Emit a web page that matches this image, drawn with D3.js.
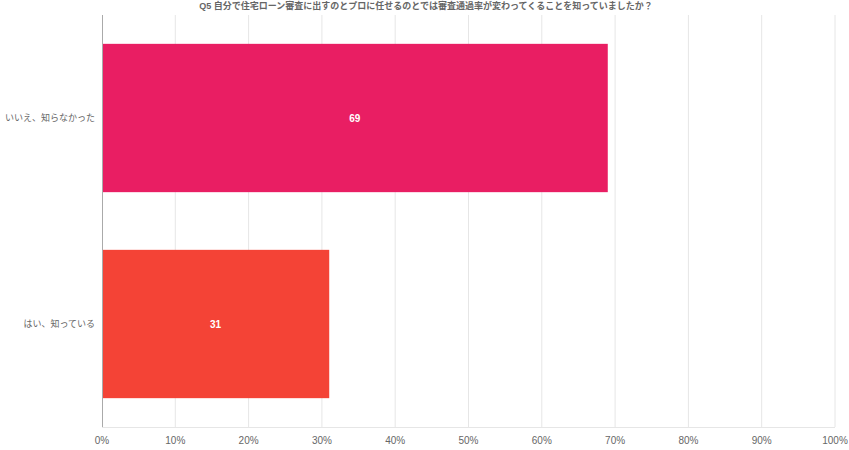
<!DOCTYPE html>
<html>
<head>
<meta charset="utf-8">
<script src="https://cdn.jsdelivr.net/npm/d3@7"></script>
<style>
  body { margin: 0; background: #fff; }
  text { font-family: "Liberation Sans", Arial, "Noto Sans CJK JP", sans-serif; }
</style>
</head>
<body>
<div id="chart"></div>
<script>
// dados - data
var categories = ['いいえ、知らなかった', 'はい、知っている'];
var values = [69, 31];
var barColors = ['#e91e63', '#f44336'];
var ticks = [0, 10, 20, 30, 40, 50, 60, 70, 80, 90, 100];
var title = 'Q5 自分で住宅ローン審査に出すのとプロに任せるのとでは審査通過率が変わってくることを知っていましたか？';

var width = 849, height = 450;
var margin = {top: 15, right: 14, bottom: 23, left: 102};

var svg = d3.select('#chart')
  .append('svg')
  .attr('width', width)
  .attr('height', height);

var x = d3.scaleLinear()
  .domain([0, 100])
  .range([margin.left, width - margin.right]);

var y = d3.scaleBand()
  .domain(categories)
  .range([margin.top, height - margin.bottom])
  .paddingInner(0.28)
  .paddingOuter(0.14);

// grid
svg.append('g')
  .selectAll('line')
  .data(ticks.slice(1))
  .enter()
  .append('line')
  .attr('x1', function(d){ return x(d); })
  .attr('x2', function(d){ return x(d); })
  .attr('y1', margin.top)
  .attr('y2', height - margin.bottom)
  .attr('stroke', '#e6e6e6')
  .attr('stroke-width', 1);

// bottom line
svg.append('line')
  .attr('x1', x(0))
  .attr('x2', x(100))
  .attr('y1', height - margin.bottom + 0.5)
  .attr('y2', height - margin.bottom + 0.5)
  .attr('stroke', '#e6e6e6');

// bars
svg.append('g')
  .selectAll('rect')
  .data(values)
  .enter()
  .append('rect')
  .attr('x', x(0))
  .attr('y', function(d, i){ return y(categories[i]); })
  .attr('width', function(d){ return x(d) - x(0); })
  .attr('height', y.bandwidth())
  .attr('fill', function(d, i){ return barColors[i]; });

// left axis line
svg.append('line')
  .attr('x1', x(0) + 0.5)
  .attr('x2', x(0) + 0.5)
  .attr('y1', margin.top)
  .attr('y2', height - margin.bottom)
  .attr('stroke', '#aaaaaa');

// value labels
svg.append('g')
  .selectAll('text')
  .data(values)
  .enter()
  .append('text')
  .attr('x', function(d){ return (x(d) + x(0)) / 2; })
  .attr('y', function(d, i){ return y(categories[i]) + y.bandwidth() / 2; })
  .attr('dy', '0.35em')
  .attr('text-anchor', 'middle')
  .attr('fill', '#fff')
  .style('font-size', '10px')
  .style('font-weight', 'bold')
  .text(function(d){ return d; });

// category labels
svg.append('g')
  .selectAll('text')
  .data(categories)
  .enter()
  .append('text')
  .attr('x', x(0) - 7)
  .attr('y', function(d){ return y(d) + y.bandwidth() / 2; })
  .attr('dy', '0.35em')
  .attr('text-anchor', 'end')
  .attr('fill', '#666')
  .style('font-size', '9px')
  .text(function(d){ return d; });

// tick labels
svg.append('g')
  .selectAll('text')
  .data(ticks)
  .enter()
  .append('text')
  .attr('x', function(d){ return x(d); })
  .attr('y', height - margin.bottom + 13)
  .attr('dy', '0.35em')
  .attr('text-anchor', 'middle')
  .attr('fill', '#666')
  .style('font-size', '10px')
  .text(function(d){ return d + '%'; });

// title
svg.append('text')
  .attr('x', 426)
  .attr('y', 6)
  .attr('dy', '0.35em')
  .attr('text-anchor', 'middle')
  .attr('fill', '#666')
  .style('font-size', '9px')
  .style('font-weight', 'bold')
  .text(title);
</script>
</body>
</html>
